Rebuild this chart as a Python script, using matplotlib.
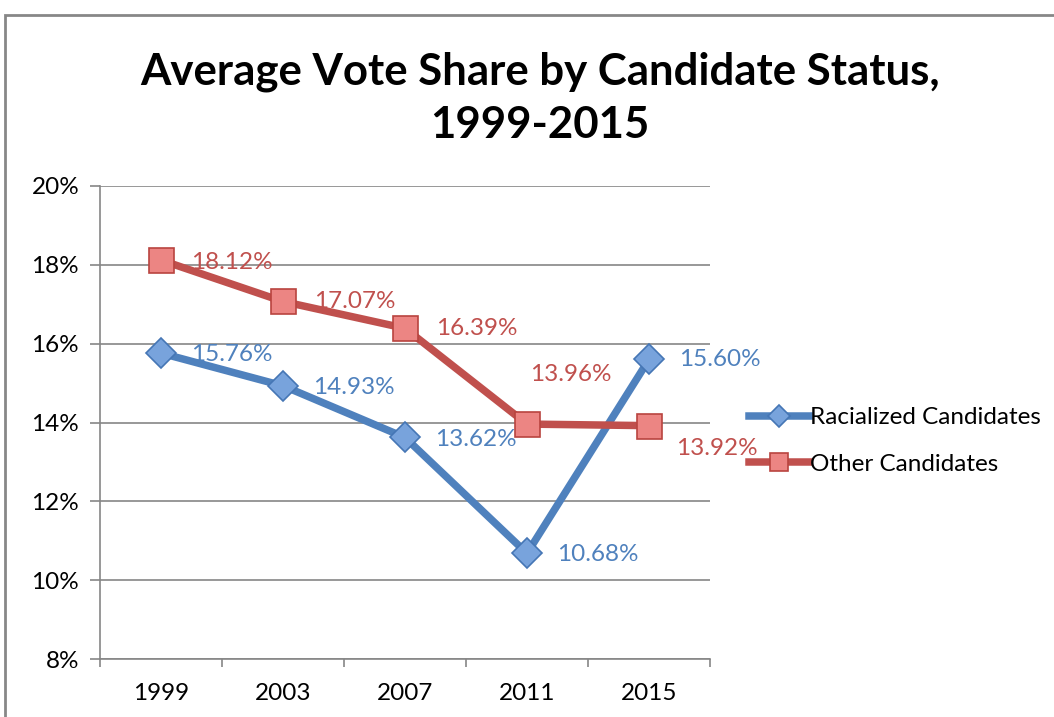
import matplotlib
matplotlib.use('Agg')
import matplotlib.pyplot as plt
from matplotlib.patches import Rectangle

plt.rcParams['font.family'] = ['Lato', 'DejaVu Sans']

# data
years = ['1999', '2003', '2007', '2011', '2015']
racialized = [15.76, 14.93, 13.62, 10.68, 15.60]
other = [18.12, 17.07, 16.39, 13.96, 13.92]
yticks = [8, 10, 12, 14, 16, 18, 20]

blue = '#4F81BD'
red = '#C0504D'
px = 0.72  # pixels -> points at 100 dpi
fs = 17.5

fig = plt.figure(figsize=(10.54, 7.17), dpi=100)
ax = fig.add_axes([100/1054, 1-659/717, 610/1054, 473/717])

x = list(range(len(years)))
ax.plot(x, racialized, color=blue, lw=5.4, marker='D', ms=15,
        mfc='#78A3DC', mec='#4576B5', mew=1.2, label='Racialized Candidates',
        solid_joinstyle='round', zorder=4)
ax.plot(x, other, color=red, lw=5.4, marker='s', ms=18,
        mfc='#EC8583', mec='#B9443F', mew=1.2, label='Other Candidates',
        solid_joinstyle='round', zorder=5)

# data labels (offsets in pixels)
off_other = [(30, -2), (31, 0), (31, 0), (44, 50), (27, -23)]
off_rac = [(30, -1), (30, -2), (30, -2), (30, -1), (30, 0)]
for i in x:
    dx, dy = off_other[i]
    ha = 'center' if i == 3 else 'left'
    ax.annotate(f'{other[i]:.2f}%', (i, other[i]), xytext=(dx*px, dy*px),
                textcoords='offset points', ha=ha, va='center',
                color=red, fontsize=fs)
    dx, dy = off_rac[i]
    ax.annotate(f'{racialized[i]:.2f}%', (i, racialized[i]), xytext=(dx*px, dy*px),
                textcoords='offset points', ha='left', va='center',
                color=blue, fontsize=fs)

ax.set_xlim(-0.5, 4.5)
ax.set_ylim(8, 20)
ax.set_yticks(yticks)
ax.set_yticklabels([f'{v}%' for v in yticks])
ax.set_xticks(x)
ax.set_xticklabels(years)
ax.set_xticks([i - 0.5 for i in range(len(years) + 1)], minor=True)
ax.tick_params(axis='x', which='major', length=0, pad=17, labelsize=fs)
ax.tick_params(axis='x', which='minor', length=6, color='#868686', width=1.2)
ax.tick_params(axis='y', length=7, color='#868686', width=1.2, pad=8, labelsize=fs)
ax.yaxis.grid(True, color='#868686', lw=1.2)
ax.set_axisbelow(True)
for s in ['top', 'right']:
    ax.spines[s].set_visible(False)
for s in ['left', 'bottom']:
    ax.spines[s].set_color('#868686')
    ax.spines[s].set_linewidth(1.2)

fig.text(540/1054, 1-98/717, 'Average Vote Share by Candidate Status,\n1999-2015',
         ha='center', va='center', fontsize=31.5, fontweight='bold', linespacing=1.4)

fig.legend(loc='center left', bbox_to_anchor=(749/1054, 1-441/717), frameon=False,
           fontsize=fs, handlelength=2.45, handletextpad=0.05, labelspacing=1.05,
           borderpad=0, borderaxespad=0, markerscale=0.75)

# chart border
fig.add_artist(Rectangle((5/1054, -0.1), 1.2, 1-15/717 + 0.1, transform=fig.transFigure,
                         fill=False, ec='#878787', lw=2))

fig.savefig('out.png', dpi=100)
